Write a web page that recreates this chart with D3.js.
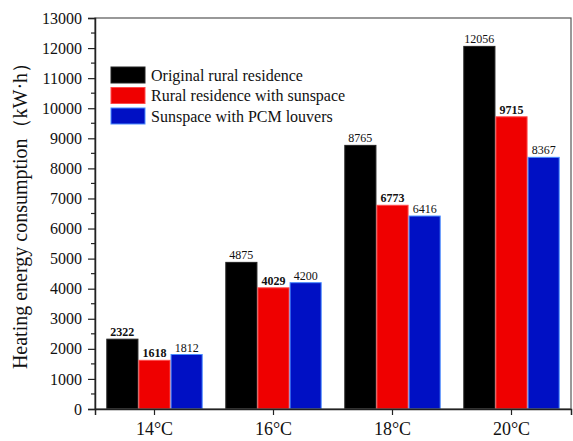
<!DOCTYPE html>
<html>
<head>
<meta charset="utf-8">
<script src="https://cdn.jsdelivr.net/npm/d3@7"></script>
<style>
  html, body { margin: 0; padding: 0; background: #fff; }
  svg { display: block; }
  text { font-family: "Liberation Serif", "Times New Roman", serif; fill: #111; }
</style>
</head>
<body>
<svg id="chart" width="573" height="441"></svg>
<script>
// Heating energy consumption by outdoor temperature, three building cases
const categories = ["14°C", "16°C", "18°C", "20°C"];
const seriesNames = ["Original rural residence", "Rural residence with sunspace", "Sunspace with PCM louvers"];
const originalValues = [2322, 4875, 8765, 12056];
const sunspaceValues = [1618, 4029, 6773, 9715];
const pcmValues = [1812, 4200, 6416, 8367];
const yTicks = [0, 1000, 2000, 3000, 4000, 5000, 6000, 7000, 8000, 9000, 10000, 11000, 12000, 13000];
const fills = ["#000000", "#ef0000", "#0010c4"];
const strokes = ["#222222", "#ff4a4a", "#4a8cff"];
const boldLabel = [[true, false, false, false], [true, true, true, true], [false, false, false, false]];

const series = [originalValues, sunspaceValues, pcmValues];

const svg = d3.select("#chart");
const margin = { left: 95, right: 2, top: 18, bottom: 32 };
const W = 573, H = 441;
const x0 = margin.left, x1 = W - margin.right, yTop = margin.top, yBot = H - margin.bottom;

const x = d3.scaleBand().domain(categories).range([x0, x1]).paddingInner(0.19).paddingOuter(0.095);
const xs = d3.scaleBand().domain([0, 1, 2]).range([0, x.bandwidth()]);
const y = d3.scaleLinear().domain([0, 13000]).range([yBot, yTop]);

// Bars with value labels
series.forEach((vals, si) => {
  svg.append("g").selectAll("rect").data(vals).enter().append("rect")
    .attr("x", (d, i) => x(categories[i]) + xs(si) + 0.5)
    .attr("y", d => y(d))
    .attr("width", xs.bandwidth() - 1)
    .attr("height", d => y(0) - y(d))
    .attr("fill", fills[si])
    .attr("stroke", strokes[si])
    .attr("stroke-width", 1);
  svg.append("g").selectAll("text").data(vals).enter().append("text")
    .attr("x", (d, i) => x(categories[i]) + xs(si) + xs.bandwidth() / 2)
    .attr("y", d => y(d) - 3)
    .attr("text-anchor", "middle")
    .attr("font-size", 12)
    .attr("font-weight", (d, i) => boldLabel[si][i] ? "bold" : "normal")
    .text(d => d);
});

// Frame
svg.append("rect").attr("x", x0).attr("y", yTop).attr("width", x1 - x0).attr("height", yBot - yTop)
  .attr("fill", "none").attr("stroke", "#555").attr("stroke-width", 1.2);

// Y axis with minor ticks
const yAxis = d3.axisLeft(y).tickValues(yTicks).tickSize(7).tickPadding(6).tickFormat(d3.format("d"));
const gy = svg.append("g").attr("transform", `translate(${x0},0)`).call(yAxis);
gy.select(".domain").attr("stroke", "#222").attr("stroke-width", 1.5);
gy.selectAll(".tick line").attr("stroke", "#222").attr("stroke-width", 1.2);
gy.selectAll("text").attr("font-size", 16).style("font-family", "'Liberation Serif', serif").attr("fill", "#111");
const minor = d3.range(500, 13000, 1000);
svg.append("g").selectAll("line").data(minor).enter().append("line")
  .attr("x1", x0 - 4).attr("x2", x0).attr("y1", d => y(d)).attr("y2", d => y(d))
  .attr("stroke", "#222").attr("stroke-width", 1.2);

// X axis
const xAxis = d3.axisBottom(x).tickSize(6).tickPadding(7);
const gx = svg.append("g").attr("transform", `translate(0,${yBot})`).call(xAxis);
gx.select(".domain").attr("stroke", "#222").attr("stroke-width", 1.5);
gx.selectAll(".tick line").attr("stroke", "#222").attr("stroke-width", 1.2);
gx.selectAll("text").attr("font-size", 18).style("font-family", "'Liberation Serif', serif").attr("fill", "#111");

// Y axis title
svg.append("text")
  .attr("transform", `translate(27,${211}) rotate(-90)`)
  .attr("text-anchor", "middle")
  .attr("font-size", 20)
  .text("Heating energy consumption（kW·h）");

// Legend
const legend = svg.append("g").attr("transform", "translate(111,67)");
seriesNames.forEach((name, i) => {
  const g = legend.append("g").attr("transform", `translate(0,${i * 20.5})`);
  g.append("rect").attr("x", 0).attr("y", 0).attr("width", 34).attr("height", 16)
    .attr("fill", fills[i]).attr("stroke", strokes[i]).attr("stroke-width", 1);
  g.append("text").attr("x", 40).attr("y", 13.5).attr("font-size", 16).text(name);
});
</script>
</body>
</html>
